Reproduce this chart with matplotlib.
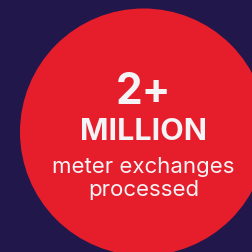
import matplotlib
matplotlib.use("Agg")
import matplotlib.pyplot as plt
from matplotlib.patches import Circle

# content
headline = "2+"
unit = "MILLION"
caption_lines = ["meter exchanges", "processed"]

BG = "#21174a"
RED = "#e61e2b"
TXT = "#f4f4f6"

W = H = 253
fig = plt.figure(figsize=(W / 100, H / 100), dpi=100)
fig.patch.set_facecolor(BG)
ax = fig.add_axes([0, 0, 1, 1])
ax.set_xlim(0, W)
ax.set_ylim(H, 0)
ax.axis("off")
ax.set_facecolor(BG)

cx, cy, r = 143.5, 133, 123.5
ax.add_patch(Circle((cx, cy), r, color=RED, lw=0))

fam = ["Inter", "DejaVu Sans"]
ax.text(cx, 103.5, headline, ha="center", va="baseline", fontsize=30.5,
        fontweight="bold", color=TXT, family=fam)
ax.text(cx, 140, unit, ha="center", va="baseline", fontsize=22,
        fontweight="bold", color=TXT, family=fam)
ax.text(cx, 173, caption_lines[0], ha="center", va="baseline", fontsize=16,
        color=TXT, family=fam)
ax.text(cx, 196, caption_lines[1], ha="center", va="baseline", fontsize=16,
        color=TXT, family=fam)

fig.savefig("out.png", dpi=100, facecolor=BG)
